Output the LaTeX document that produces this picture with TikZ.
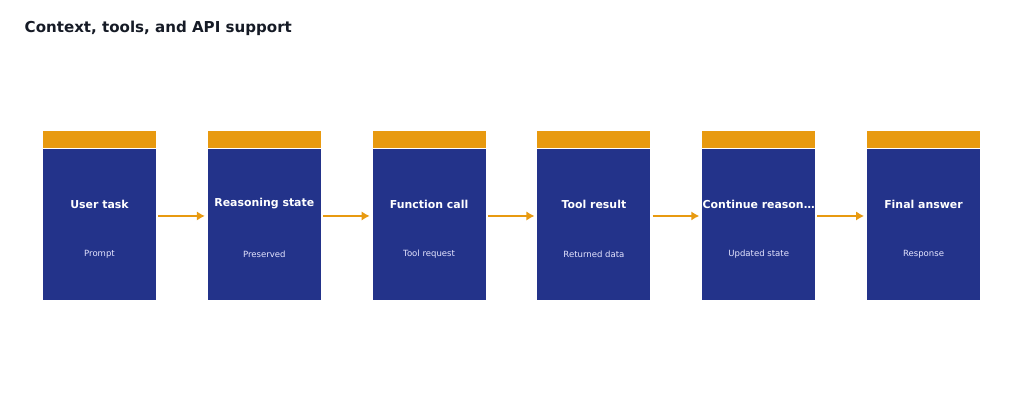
\documentclass[tikz,border=0pt]{standalone}
\usepackage{fontspec}
\setmainfont{DejaVu Sans}
\usetikzlibrary{arrows.meta, positioning}
\definecolor{stepblue}{HTML}{23338A}
\definecolor{steporange}{HTML}{E89A10}
\definecolor{titleink}{HTML}{161B26}

\begin{document}
\begin{tikzpicture}[
        x=0.75pt, y=-0.75pt,
        stage/.style={
            fill=stepblue,
            rectangle,
            inner sep=0pt,
            minimum width=84.75pt,
            minimum height=113.25pt,
        },
        band/.style={
            fill=steporange,
            rectangle,
            inner sep=0pt,
            minimum width=84.75pt,
            minimum height=12.75pt,
        },
        head/.style={
            text=white,
            font=\bfseries\fontsize{8.2}{10}\selectfont,
        },
        sub/.style={
            text=blue!10,
            font=\fontsize{6.4}{8}\selectfont,
        },
    ]
    \useasboundingbox (0,0) rectangle (1024,405);

    \node[anchor=west, text=titleink, font=\bfseries\fontsize{11.3}{13}\selectfont] (title) at (20,28) {Context, tools, and API support};

    \foreach \i/\stagehead/\stagesub in {1/User task/Prompt, 2/Reasoning state/Preserved, 3/Function call/Tool request,
            4/Tool result/Returned data, 5/Continue reason…/Updated state, 6/Final answer/Response} {
        \node[stage] (s\i) at ({99.5+164.8*(\i-1)}, 224.5) {};
        \node[band, above=0pt of s\i] (b\i) {};
        \node[head] (h\i) at ([yshift=15.4pt]s\i.center) {\stagehead};
        \node[sub] (t\i) at ([yshift=-22.1pt]s\i.center) {\stagesub};
    }

    \begin{scope}[draw=steporange, line width=1.8pt, -{Latex[length=6pt, width=7pt]}, shorten <=1.5pt, shorten >=2pt]
        \foreach \i [evaluate=\i as \j using int(\i+1)] in {1,...,5} {
            \draw ([yshift=6.4pt]s\i.east) -- ([yshift=6.4pt]s\j.west);
        }
    \end{scope}
\end{tikzpicture}
\end{document}
